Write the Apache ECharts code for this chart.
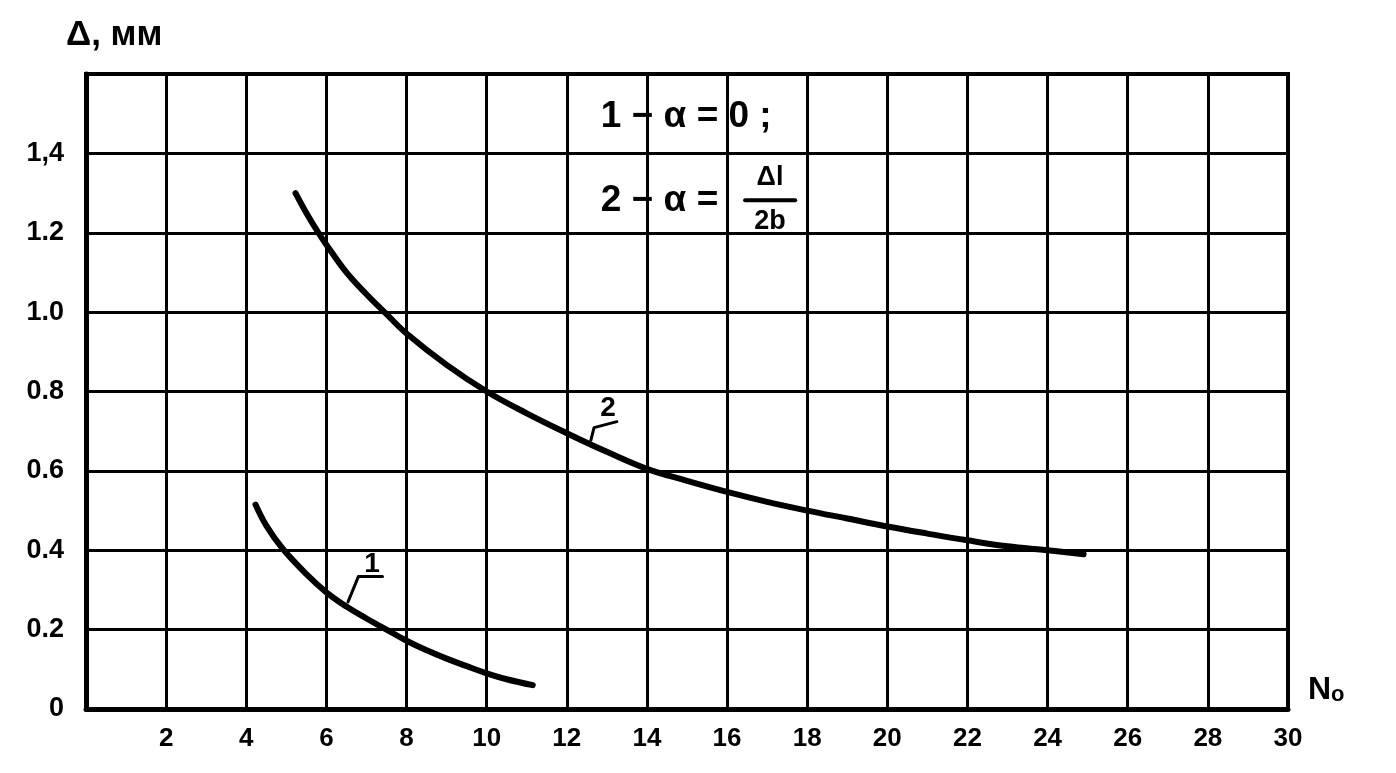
<!DOCTYPE html>
<html><head><meta charset="utf-8">
<script src="https://cdn.jsdelivr.net/npm/echarts@6/dist/echarts.min.js"></script>
<style>html,body{margin:0;padding:0;background:#fff}#c{width:1396px;height:773px}</style>
</head><body><div id="c"></div>
<script>
// ---- data ----
const xTickLabels = ['', '2', '4', '6', '8', '10', '12', '14', '16', '18', '20', '22', '24', '26', '28', '30'];
const yTickLabels = ['0', '0.2', '0.4', '0.6', '0.8', '1.0', '1.2', '1,4', ''];
const curve1X = [4.23, 4.5, 4.9, 5.5, 6, 6.5, 7, 7.5, 8, 8.5, 9, 9.5, 10, 10.5, 11.15];
const curve1Y = [0.515, 0.462, 0.405, 0.34, 0.294, 0.258, 0.228, 0.2, 0.172, 0.148, 0.127, 0.108, 0.09, 0.075, 0.06];
const curve2X = [5.23, 5.5, 5.8, 6, 6.5, 7, 7.5, 8, 9, 10, 11, 12, 13, 14, 15, 16, 17, 18, 19, 20, 21, 22, 23, 24, 24.9];
const curve2Y = [1.30, 1.25, 1.20, 1.17, 1.10, 1.045, 0.995, 0.946, 0.867, 0.80, 0.745, 0.695, 0.648, 0.605, 0.575, 0.547, 0.522, 0.50, 0.48, 0.46, 0.442, 0.425, 0.41, 0.40, 0.39];
const curveNames = ['1', '2'];
const leader1X = [6.54, 6.8, 7.4];
const leader1Y = [0.27, 0.334, 0.334];
const leader2X = [12.6, 12.68, 13.25];
const leader2Y = [0.677, 0.709, 0.724];
const curveLabelAt = [[7.14, 0.365], [13.03, 0.758]];
const noteLines = ['1 − α = 0 ;', '2 − α ='];
const noteAt = [[12.85, 1.492], [12.85, 1.28]];
const fracNum = 'Δl';
const fracDen = '2b';
const fracNumAt = [17.07, 1.338];
const fracDenAt = [17.07, 1.227];
const fracBarX = [16.45, 17.7];
const fracBarY = [1.282, 1.282];
const xName = 'N';
const xNameSub = 'o';
const yName = 'Δ, мм';

const zip = (a, b) => a.map((v, i) => [v, b[i]]);
const FONT = "'Liberation Sans Narrow', 'Liberation Sans', sans-serif";

function lineSeries(xs, ys, w, smooth) {
  return {
    type: 'line', silent: true, showSymbol: false, symbol: 'none', smooth: smooth,
    data: zip(xs, ys),
    lineStyle: { color: '#000', width: w, cap: 'round', join: 'round' }, z: 4
  };
}

const chart = echarts.init(document.getElementById('c'), null, { renderer: 'canvas' });
chart.setOption({
  animation: false,
  backgroundColor: '#fff',
  grid: { left: 86, right: 108, top: 74, bottom: 64, show: true, borderColor: '#000', borderWidth: 4 },
  xAxis: {
    type: 'value', min: 0, max: 30, interval: 2,
    axisLine: { lineStyle: { color: '#000', width: 5 } },
    axisTick: { show: false },
    splitLine: { show: true, lineStyle: { color: '#000', width: 3 } },
    axisLabel: { color: '#000', fontWeight: 'bold', fontSize: 26, fontFamily: FONT, margin: 17,
      formatter: (v) => xTickLabels[Math.round(v / 2)] }
  },
  yAxis: {
    type: 'value', min: 0, max: 1.6, interval: 0.2,
    axisLine: { lineStyle: { color: '#000', width: 5 } },
    axisTick: { show: false },
    splitLine: { show: true, lineStyle: { color: '#000', width: 3 } },
    axisLabel: { color: '#000', fontWeight: 'bold', fontSize: 27, fontFamily: FONT, margin: 22,
      formatter: (v) => yTickLabels[Math.round(v / 0.2)] }
  },
  series: [
    lineSeries(curve1X, curve1Y, 6, 0.4),
    lineSeries(curve2X, curve2Y, 6, 0.4),
    lineSeries(leader1X, leader1Y, 3, false),
    lineSeries(leader2X, leader2Y, 3, false),
    lineSeries(fracBarX, fracBarY, 4, false)
  ]
});

const px = (p) => chart.convertToPixel({ gridIndex: 0 }, p);
function txt(p, text, size, align) {
  const q = px(p);
  return { type: 'text', x: q[0], y: q[1], z: 10,
    style: { text: text, fill: '#000', font: 'bold ' + size + 'px ' + FONT, textAlign: align, textVerticalAlign: 'middle' } };
}
const g = [
  { type: 'text', left: 66, top: 18, style: { text: yName, fill: '#000', font: 'bold 35px ' + FONT } },
  { type: 'text', left: 1308, top: 674, style: { text: '{a|' + xName + '}{b|' + xNameSub + '}',
    rich: { a: { fontSize: 32, fontWeight: 'bold', fontFamily: FONT, color: '#000' },
            b: { fontSize: 22, fontWeight: 'bold', fontFamily: FONT, color: '#000', verticalAlign: 'bottom' } } } }
];
curveLabelAt.forEach((p, i) => g.push(txt(p, curveNames[i], 28, 'center')));
noteAt.forEach((p, i) => g.push(txt(p, noteLines[i], 37, 'left')));
g.push(txt(fracNumAt, fracNum, 27, 'center'));
g.push(txt(fracDenAt, fracDen, 27, 'center'));
chart.setOption({ graphic: g });
</script></body></html>
